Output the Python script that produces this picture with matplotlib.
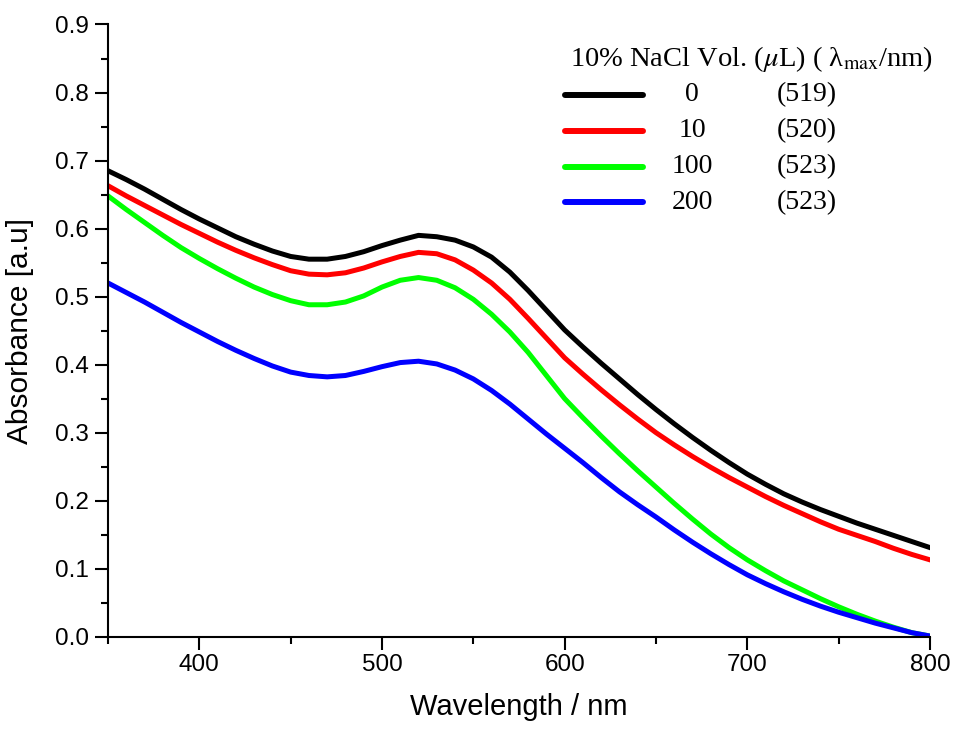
import matplotlib
matplotlib.use('Agg')
import matplotlib.pyplot as plt
from matplotlib.ticker import MultipleLocator, FormatStrFormatter

# wavelength grid (nm), 10 nm steps, and absorbance
wavelength = list(range(350, 801, 10))

abs_0 = [0.685, 0.672, 0.658, 0.643, 0.628, 0.614, 0.601, 0.588, 0.577, 0.567,
         0.559, 0.555, 0.555, 0.559, 0.566, 0.575, 0.583, 0.590, 0.588, 0.583,
         0.573, 0.558, 0.536, 0.509, 0.480, 0.451, 0.426, 0.402, 0.379, 0.356,
         0.334, 0.313, 0.293, 0.274, 0.256, 0.239, 0.224, 0.210, 0.198, 0.187,
         0.177, 0.167, 0.158, 0.149, 0.140, 0.131]
abs_10 = [0.663, 0.648, 0.634, 0.620, 0.606, 0.593, 0.580, 0.568, 0.557, 0.547,
          0.538, 0.533, 0.532, 0.535, 0.542, 0.551, 0.559, 0.565, 0.563, 0.554,
          0.539, 0.520, 0.496, 0.468, 0.439, 0.410, 0.386, 0.363, 0.341, 0.320,
          0.300, 0.282, 0.265, 0.249, 0.234, 0.220, 0.206, 0.193, 0.181, 0.169,
          0.158, 0.149, 0.140, 0.130, 0.121, 0.113]
abs_100 = [0.648, 0.628, 0.609, 0.590, 0.572, 0.556, 0.541, 0.527, 0.514, 0.503,
           0.494, 0.488, 0.488, 0.492, 0.501, 0.514, 0.524, 0.528, 0.524, 0.513,
           0.496, 0.474, 0.448, 0.418, 0.384, 0.350, 0.322, 0.295, 0.269, 0.244,
           0.220, 0.196, 0.173, 0.151, 0.131, 0.113, 0.097, 0.082, 0.069, 0.056,
           0.044, 0.033, 0.023, 0.014, 0.006, 0.001]
abs_200 = [0.520, 0.506, 0.492, 0.477, 0.462, 0.448, 0.434, 0.421, 0.409, 0.398,
           0.389, 0.384, 0.382, 0.384, 0.390, 0.397, 0.403, 0.405, 0.401, 0.392,
           0.379, 0.362, 0.342, 0.320, 0.298, 0.277, 0.256, 0.234, 0.213, 0.194,
           0.176, 0.157, 0.139, 0.122, 0.106, 0.091, 0.078, 0.066, 0.055, 0.045,
           0.036, 0.028, 0.020, 0.013, 0.006, 0.001]

volumes = ['0', '10', '100', '200']
lambda_max = [519, 520, 523, 523]
colors = ['#000000', '#ff0000', '#00ff00', '#0000ff']
series = [abs_0, abs_10, abs_100, abs_200]

plt.rcParams['mathtext.fontset'] = 'stix'

fig = plt.figure(figsize=(9.54, 7.29), dpi=100)
ax = fig.add_axes([0.1132, 0.1266, 0.8616, 0.8398])

for y, c in zip(series, colors):
    ax.plot(wavelength, y, color=c, lw=3.6, solid_joinstyle='round')

ax.set_xlim(350, 800)
ax.set_ylim(0, 0.9)
ax.xaxis.set_major_locator(MultipleLocator(100))
ax.xaxis.set_minor_locator(MultipleLocator(50))
ax.yaxis.set_major_locator(MultipleLocator(0.1))
ax.yaxis.set_minor_locator(MultipleLocator(0.05))
ax.yaxis.set_major_formatter(FormatStrFormatter('%.1f'))

for s in ['top', 'right']:
    ax.spines[s].set_visible(False)
for s in ['left', 'bottom']:
    ax.spines[s].set_linewidth(1.5)

tick_font = 'Liberation Sans'
ax.tick_params(which='major', length=9.4, width=1.5, direction='out', labelsize=17.5)
ax.tick_params(which='minor', length=5, width=1.5, direction='out')
ax.tick_params(axis='x', which='major', pad=3)
ax.tick_params(axis='y', which='major', pad=4.3)
for lab in ax.get_xticklabels() + ax.get_yticklabels():
    lab.set_fontfamily(tick_font)

ax.set_xlabel('Wavelength / nm', fontsize=21, fontfamily=tick_font)
ax.set_ylabel('Absorbance [a.u]', fontsize=21.5, fontfamily=tick_font)
ax.xaxis.set_label_coords(0.5, -0.092)
ax.yaxis.set_label_coords(-0.09, 0.5)

# hand-made legend in Times-like serif
serif = ['Liberation Serif', 'DejaVu Serif']
ax.text(0.562, 0.932, '10% NaCl Vol. ($\\mu$L) ( λ$_{\\rm max}$/nm)',
        transform=ax.transAxes, fontsize=20.5, fontfamily=serif, ha='left', va='baseline')
row_y = 0.885
for vol, lam, c in zip(volumes, lambda_max, colors):
    ax.plot([0.556, 0.651], [row_y, row_y], transform=ax.transAxes, color=c,
            lw=4.3, solid_capstyle='round', clip_on=False)
    ax.text(0.7105, row_y, vol, transform=ax.transAxes, fontsize=20,
            fontfamily=serif, ha='center', va='center')
    ax.text(0.814, row_y, f'({lam})', transform=ax.transAxes, fontsize=20,
            fontfamily=serif, ha='left', va='center')
    row_y -= 0.0585

fig.savefig('out.png', dpi=100)
